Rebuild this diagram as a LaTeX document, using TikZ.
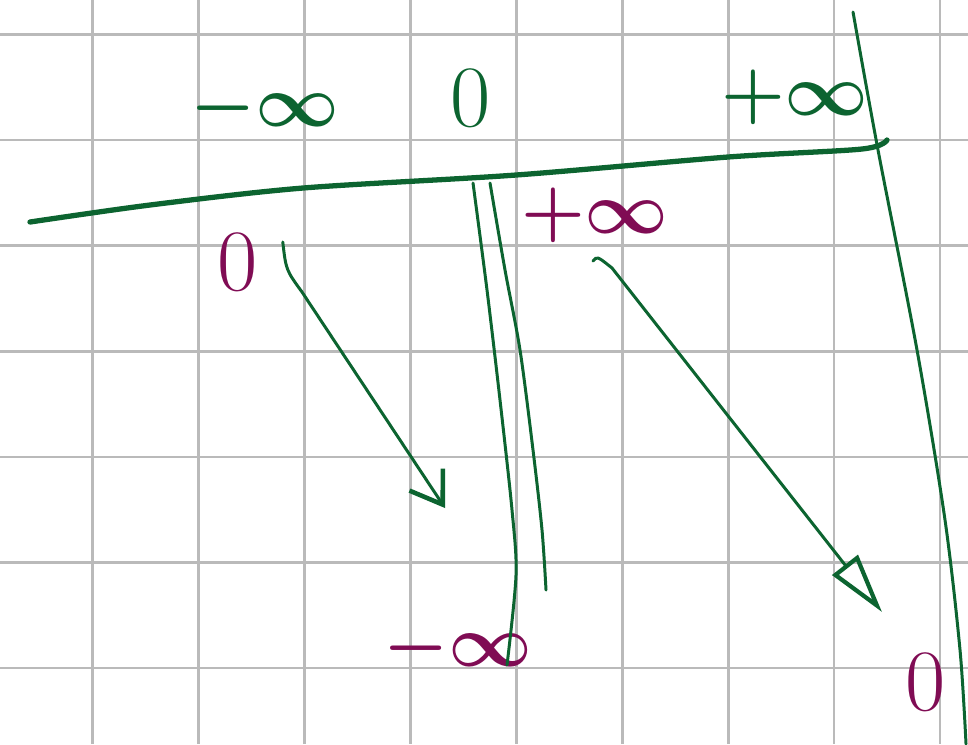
\documentclass[tikz,border=0pt]{standalone}
\usepackage{amsmath, amssymb}
\usepackage{tikz}
\usetikzlibrary{arrows.meta}
\definecolor{inkgreen}{RGB}{12,100,48}
\definecolor{inkplum}{RGB}{128,12,84}
\tikzset{gridline/.style={draw=black!27, line width=0.75pt}}
\tikzset{axisline/.style={draw=inkgreen, line width=1.5pt, line cap=round}}
\tikzset{thinline/.style={draw=inkgreen, line width=0.85pt, line cap=round}}
\tikzset{lbl/.style={inner sep=0pt, font=\huge\boldmath}}
\tikzset{greenlbl/.style={lbl, text=inkgreen}, plumlbl/.style={lbl, text=inkplum}}
\tikzset{zerolbl/.style={font=\Huge}}
\tikzset{mapbarb/.style={thinline, -{Straight Barb[length=3mm, width=4mm, line width=1.3pt]}}}
\tikzset{mapopen/.style={thinline, -{Triangle[open, length=6mm, width=3.2mm, line width=1.2pt]}}}

\begin{document}
\begin{tikzpicture}[x=0.01cm, y=-0.01cm]
\useasboundingbox (0,0) rectangle (968,744);
\fill[white] (0,0) rectangle (968,744);
\foreach \i in {0,...,8} \draw[gridline] (92.8+105.9*\i,0) -- (92.8+105.9*\i,744);
\foreach \j in {0,...,6} \draw[gridline] (0,34.5+105.6*\j) -- (968,34.5+105.6*\j);
\node[greenlbl] (ninfT) at (265,108) {$-\infty$};
\node[greenlbl, zerolbl] (zeroT) at (471,98) {$0$};
\node[greenlbl] (pinfT) at (795,97) {$+\infty$};
\node[plumlbl, zerolbl] (zeroA) at (238,262) {$0$};
\node[plumlbl] (pinfA) at (595,215) {$+\infty$};
\node[plumlbl] (ninfB) at (458,648) {$-\infty$};
\node[plumlbl, zerolbl] (zeroB) at (926,682) {$0$};
\draw[axisline] plot[smooth] coordinates {(30,222) (150,205) (303,188) (516,175) (728,157) (862,149) (887,140)};
\draw[thinline] plot[smooth] coordinates {(853,12) (878,150) (917,350) (945,520) (960,650) (966,744)};
\draw[thinline] plot[smooth] coordinates {(473,183) (487,290) (500,400) (512,510) (516,575) (507,665)};
\draw[thinline] plot[smooth] coordinates {(490,183) (505,270) (520,350) (533,450) (542,530) (546,590)};
\coordinate (srcL) at ([shift={(24,-20)}]zeroA.east);
\coordinate (tipL) at (445,508);
\coordinate (srcR) at ([shift={(-2,18)}]pinfA.south);
\coordinate (tipR) at (882,612);
\draw[mapbarb] (srcL) .. controls (286,270) .. (302,292) -- (tipL);
\draw[mapopen] (srcR) .. controls (597,256) .. (612,268) -- (tipR);
\end{tikzpicture}
\end{document}
